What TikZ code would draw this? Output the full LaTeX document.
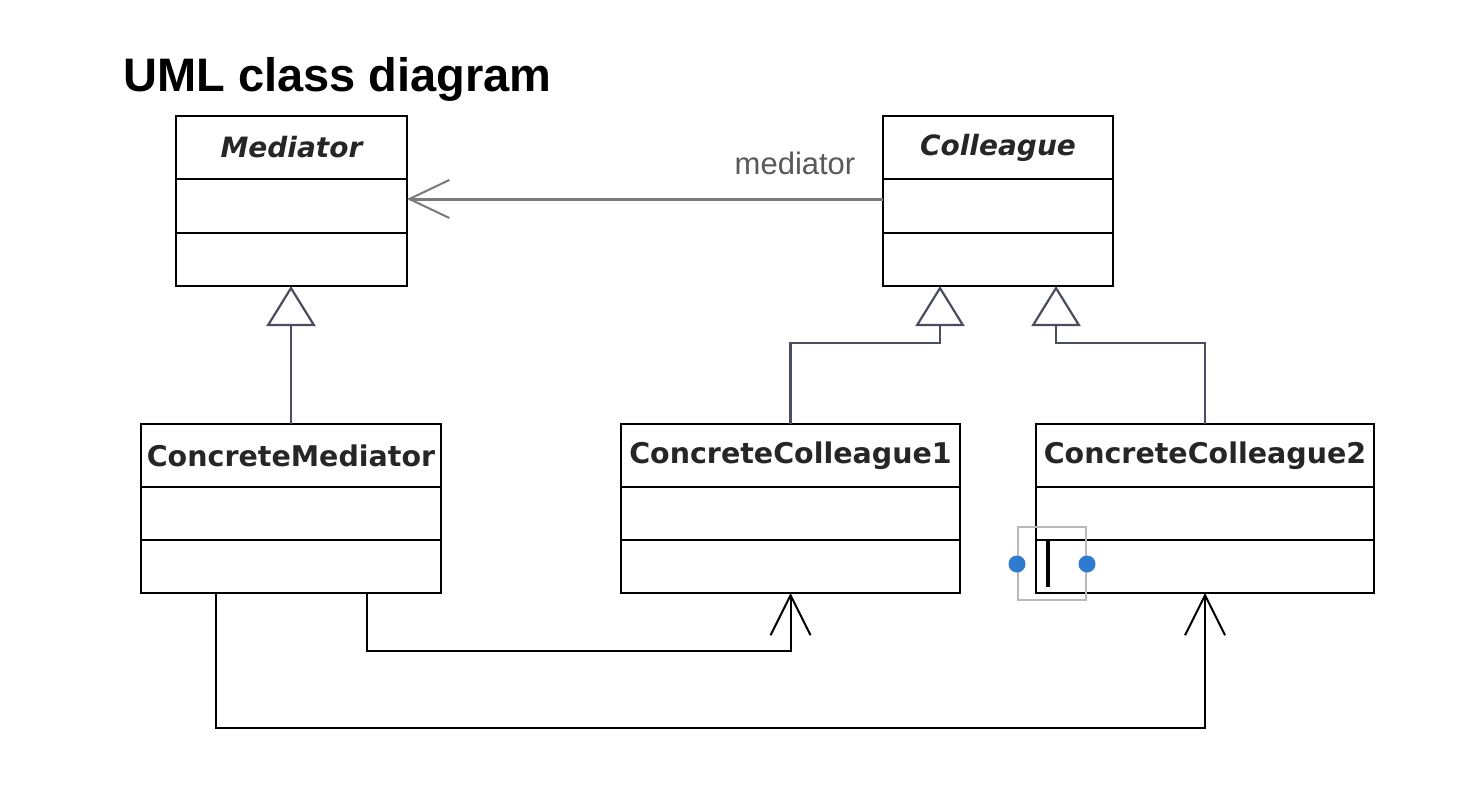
\documentclass[tikz,border=0pt]{standalone}
\usepackage{fontspec}
\newfontfamily\classfont{DejaVu Sans}
\newfontfamily\titlefont{Liberation Sans}
\usetikzlibrary{arrows.meta}
\definecolor{cursorblue}{HTML}{2E7BD0}
\definecolor{genline}{HTML}{4A4D60}
\definecolor{assocline}{HTML}{7A7A7A}
\begin{document}
\begin{tikzpicture}[x=1pt,y=-1pt,
  comp/.style={draw=black, line width=2pt, inner sep=0pt, outer sep=0pt, fill=white},
  cname/.style={font=\classfont\bfseries\fontsize{28.5}{34}\selectfont, text=black!85},
  aname/.style={font=\classfont\bfseries\itshape\fontsize{28}{34}\selectfont, text=black!85},
  assoc/.style={draw=assocline, line width=3pt, -{Straight Barb[length=40pt,width=38pt,line width=2pt]}},
  gen/.style={draw=genline, line width=2.2pt, -{Triangle[open,length=40pt,width=49pt,fill=white]}},
  dep/.style={draw=black, line width=2pt, -{Straight Barb[length=40pt,width=40pt]}},
  lbl/.style={font=\titlefont\fontsize{31}{36}\selectfont, text=black!65, inner sep=0pt}
]
\useasboundingbox (0,0) rectangle (1482,792);
\fill[white] (0,0) rectangle (1482,792);

% title
\node[anchor=base west, inner sep=0pt, font=\titlefont\bfseries\fontsize{47}{56}\selectfont] (title) at (123,92) {UML class diagram};

% Mediator
\node[comp, aname, minimum width=231pt, minimum height=63pt] (medN) at (291.5,147.5) {Mediator};
\node[comp, minimum width=231pt, minimum height=54pt] (medA) at (291.5,206) {};
\node[comp, minimum width=231pt, minimum height=53pt] (medO) at (291.5,259.5) {};

% Colleague
\node[comp, aname, minimum width=230pt, minimum height=63pt] (colN) at (998,147.5) {Colleague};
\node[comp, minimum width=230pt, minimum height=54pt] (colA) at (998,206) {};
\node[comp, minimum width=230pt, minimum height=53pt] (colO) at (998,259.5) {};

% ConcreteMediator
\node[comp, cname, minimum width=300pt, minimum height=63pt] (cmN) at (291,455.5) {ConcreteMediator};
\node[comp, minimum width=300pt, minimum height=53pt] (cmA) at (291,513.5) {};
\node[comp, minimum width=300pt, minimum height=53pt] (cmO) at (291,566.5) {};

% ConcreteColleague1
\node[comp, cname, minimum width=339pt, minimum height=63pt] (ccaN) at (790.5,455.5) {ConcreteColleague1};
\node[comp, minimum width=339pt, minimum height=53pt] (ccaA) at (790.5,513.5) {};
\node[comp, minimum width=339pt, minimum height=53pt] (ccaO) at (790.5,566.5) {};

% ConcreteColleague2
\node[comp, cname, minimum width=338pt, minimum height=63pt] (ccbN) at (1205,455.5) {ConcreteColleague2};
\node[comp, minimum width=338pt, minimum height=53pt] (ccbA) at (1205,513.5) {};
\node[comp, minimum width=338pt, minimum height=53pt] (ccbO) at (1205,566.5) {};

% association Colleague -> Mediator
\draw[assoc] ([yshift=7pt]colA.west) -- ([yshift=7pt]medA.east);
\node[lbl] (medlbl) at (795,163) {mediator};

% generalisations
\draw[gen] (cmN.north) -- (cmN.north |- medO.south);
\draw[gen] (ccaN.north) -- ++(0,-81) -| ([xshift=-58pt]colO.south);
\draw[gen] (ccbN.north) -- ++(0,-81) -| ([xshift=58pt]colO.south);

% dependencies
\draw[dep] ([xshift=76pt]cmO.south) -- ++(0,58) -| (ccaO.south);
\draw[dep] ([xshift=-75pt]cmO.south) -- ++(0,135) -| (ccbO.south);

% text cursor artifact
\draw[gray!55, line width=1.2pt] (1018,527) rectangle (1086,600);
\fill[cursorblue] (1017,564) circle (8.5);
\fill[cursorblue] (1087,564) circle (8.5);
\fill[black] (1046,540) rectangle (1050,587);
\end{tikzpicture}
\end{document}
